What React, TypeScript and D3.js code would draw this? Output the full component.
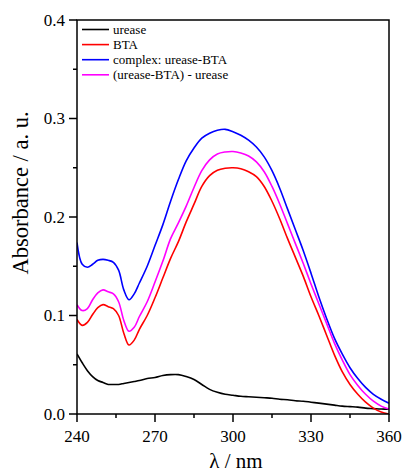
import React from "react";
import * as d3 from "d3";

const wavelengths = [240,242,244,246,248,250,252,254,256,258,260,262,264,267,270,273,276,279,282,285,288,291,294,297,300,303,306,309,312,315,318,321,324,327,330,333,336,339,342,345,348,351,354,357,360];

const urease = [0.061,0.052,0.044,0.038,0.034,0.032,0.030,0.030,0.030,0.031,0.032,0.033,0.034,0.036,0.037,0.039,0.040,0.040,0.038,0.035,0.030,0.025,0.022,0.020,0.019,0.018,0.0175,0.017,0.0165,0.016,0.015,0.0145,0.0135,0.013,0.012,0.011,0.010,0.009,0.008,0.0075,0.007,0.006,0.0055,0.005,0.005];

const bta = [0.096,0.090,0.093,0.101,0.108,0.111,0.109,0.107,0.100,0.082,0.070,0.075,0.086,0.100,0.118,0.138,0.158,0.175,0.195,0.213,0.231,0.242,0.2475,0.2495,0.250,0.249,0.246,0.241,0.231,0.216,0.198,0.178,0.159,0.140,0.119,0.100,0.080,0.060,0.043,0.030,0.020,0.012,0.006,0.002,0.000];

const complexUB = [0.174,0.152,0.149,0.152,0.156,0.157,0.156,0.154,0.146,0.126,0.116,0.122,0.133,0.150,0.171,0.192,0.216,0.238,0.257,0.270,0.280,0.285,0.288,0.289,0.2866,0.283,0.278,0.271,0.261,0.247,0.229,0.208,0.187,0.166,0.143,0.119,0.097,0.077,0.061,0.047,0.036,0.027,0.020,0.015,0.011];

const difference = [0.111,0.105,0.107,0.116,0.123,0.126,0.124,0.122,0.114,0.095,0.084,0.088,0.099,0.114,0.134,0.155,0.178,0.194,0.211,0.230,0.247,0.258,0.264,0.266,0.2665,0.265,0.262,0.256,0.246,0.231,0.213,0.193,0.173,0.153,0.132,0.112,0.092,0.072,0.055,0.040,0.029,0.020,0.013,0.008,0.005];

const seriesNames = ["urease", "BTA", "complex: urease-BTA", "(urease-BTA) - urease"];
const seriesColors = ["#000000", "#ff0000", "#0000ff", "#ff00ff"];
const seriesValues = [urease, bta, complexUB, difference];

const xMajor = [240, 270, 300, 330, 360];
const xMinor = [255, 285, 315, 345];
const yMajor = [0, 0.1, 0.2, 0.3, 0.4];
const yMinor = [0.05, 0.15, 0.25, 0.35];

export default function App() {
  const W = 403, H = 472;
  const left = 77, right = 389, top = 20, bottom = 414;
  const x = d3.scaleLinear().domain([240, 360]).range([left, right]);
  const y = d3.scaleLinear().domain([0, 0.4]).range([bottom, top]);
  const line = d3
    .line<number>()
    .x((_, i) => x(wavelengths[i]))
    .y((d) => y(d))
    .curve(d3.curveCatmullRom.alpha(0.5));
  const tf = { fontFamily: "Liberation Serif, DejaVu Serif, serif" };

  return (
    <svg width={W} height={H} style={{ position: "absolute", left: 0, top: 0, background: "#fff", fontFamily: "Liberation Serif, serif" }}>
      <defs>
        <clipPath id="plot">
          <rect x={left} y={top} width={right - left} height={bottom - top} />
        </clipPath>
      </defs>
      <g clipPath="url(#plot)">
        {seriesValues.map((vals, k) => (
          <path key={k} d={line(vals) || ""} fill="none" stroke={seriesColors[k]} strokeWidth={1.6} />
        ))}
      </g>
      <rect x={left} y={top} width={right - left} height={bottom - top} fill="none" stroke="#000" strokeWidth={1.5} />
      {yMajor.map((v) => (
        <g key={"ym" + v}>
          <line x1={left - 8} x2={left} y1={y(v)} y2={y(v)} stroke="#000" strokeWidth={1.5} />
          <text style={tf} x={left - 12} y={y(v) + 5.5} fontSize={17} textAnchor="end">{v.toFixed(1)}</text>
        </g>
      ))}
      {yMinor.map((v) => (
        <line key={"yn" + v} x1={left - 4} x2={left} y1={y(v)} y2={y(v)} stroke="#000" strokeWidth={1.5} />
      ))}
      {xMajor.map((v) => (
        <g key={"xm" + v}>
          <line x1={x(v)} x2={x(v)} y1={bottom} y2={bottom + 8} stroke="#000" strokeWidth={1.5} />
          <text style={tf} x={x(v)} y={bottom + 28} fontSize={17} textAnchor="middle">{v}</text>
        </g>
      ))}
      {xMinor.map((v) => (
        <line key={"xn" + v} x1={x(v)} x2={x(v)} y1={bottom} y2={bottom + 4} stroke="#000" strokeWidth={1.5} />
      ))}
      <text style={tf} x={236} y={468} fontSize={21} textAnchor="middle">λ / nm</text>
      <text style={tf} transform={`translate(28, 193) rotate(-90)`} fontSize={22.5} textAnchor="middle">Absorbance / a. u.</text>
      {seriesNames.map((n, k) => (
        <g key={n}>
          <line x1={82} x2={109} y1={29.5 + k * 15.1} y2={29.5 + k * 15.1} stroke={seriesColors[k]} strokeWidth={1.6} />
          <text style={tf} x={113} y={33.8 + k * 15.1} fontSize={13}>{n}</text>
        </g>
      ))}
    </svg>
  );
}
